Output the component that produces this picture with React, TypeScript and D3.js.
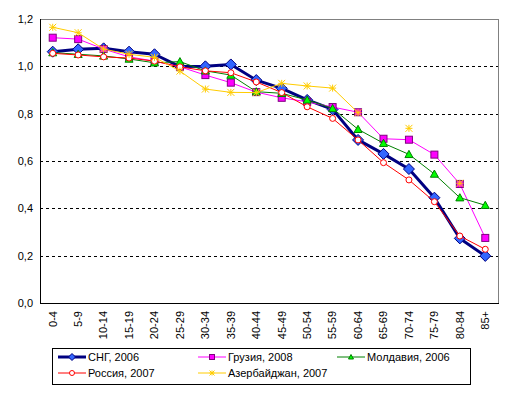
import React from "react";
import * as d3 from "d3";

const categories = ["0-4","5-9","10-14","15-19","20-24","25-29","30-34","35-39","40-44","45-49","50-54","55-59","60-64","65-69","70-74","75-79","80-84","85+"];
const yTicks = [0, 0.2, 0.4, 0.6, 0.8, 1.0, 1.2];

const sng = [1.062,1.072,1.076,1.062,1.051,0.999,1.0,1.008,0.942,0.907,0.858,0.818,0.689,0.630,0.566,0.445,0.273,0.199];
const georgia = [1.121,1.115,1.073,1.04,1.022,0.998,0.963,0.931,0.891,0.867,0.85,0.828,0.806,0.694,0.690,0.627,0.503,0.275];
const moldova = [1.058,1.051,1.044,1.031,1.015,1.02,0.981,0.963,0.893,0.886,0.858,0.822,0.734,0.675,0.628,0.545,0.445,0.413];
const russia = [1.055,1.048,1.04,1.035,1.022,0.998,0.981,0.973,0.934,0.889,0.829,0.780,0.689,0.593,0.520,0.428,0.283,0.227];
const azerbaijan: (number | null)[] = [1.165,1.142,1.073,1.051,1.038,0.980,0.904,0.890,0.889,0.928,0.917,0.908,0.804,null,0.738,null,0.506,null];

const seriesNames = ["СНГ, 2006","Грузия, 2008","Молдавия, 2006","Россия, 2007","Азербайджан, 2007"];

type Marker = "diamond" | "square" | "triangle" | "circle" | "star";
const styles: { line: string; width: number; marker: Marker; fill: string; stroke: string; size: number }[] = [
  { line: "#000080", width: 3, marker: "diamond", fill: "#3366FF", stroke: "#000080", size: 5.5 },
  { line: "#FF00FF", width: 1, marker: "square", fill: "#FF00FF", stroke: "#800080", size: 3.5 },
  { line: "#008000", width: 1, marker: "triangle", fill: "#00FF00", stroke: "#008000", size: 4 },
  { line: "#FF0000", width: 1, marker: "circle", fill: "none", stroke: "#FF0000", size: 3 },
  { line: "#FFCC00", width: 1, marker: "star", fill: "none", stroke: "#FFCC00", size: 3.5 },
];
const allSeries = [sng, georgia, moldova, russia, azerbaijan];

function MarkerShape({ type, x, y, s, fill, stroke }: { type: Marker; x: number; y: number; s: number; fill: string; stroke: string }) {
  switch (type) {
    case "diamond":
      return <path d={`M${x},${y - s}L${x + s},${y}L${x},${y + s}L${x - s},${y}Z`} fill={fill} stroke={stroke} strokeWidth={1} />;
    case "square":
      return <rect x={x - s} y={y - s} width={2 * s} height={2 * s} fill={fill} stroke={stroke} strokeWidth={1} />;
    case "triangle":
      return <path d={`M${x},${y - s}L${x + s},${y + s * 0.8}L${x - s},${y + s * 0.8}Z`} fill={fill} stroke={stroke} strokeWidth={1} />;
    case "circle":
      return <circle cx={x} cy={y} r={s} fill={fill} stroke={stroke} strokeWidth={1} />;
    case "star":
      return <path d={`M${x - s},${y - s}L${x + s},${y + s}M${x - s},${y + s}L${x + s},${y - s}M${x},${y - s}L${x},${y + s}M${x - s},${y}L${x + s},${y}`} fill="none" stroke={stroke} strokeWidth={1} />;
  }
}

export default function App() {
  const W = 513, H = 393;
  const left = 40, right = 498, top = 19, bottom = 303;
  const x = d3.scaleBand<string>().domain(categories).range([left, right]);
  const y = d3.scaleLinear().domain([0, 1.2]).range([bottom, top]);
  const cx = (c: string) => (x(c) as number) + x.bandwidth() / 2;
  const font = "'Liberation Sans', Arial, sans-serif";

  const line = d3.line<number | null>()
    .defined((d) => d !== null)
    .x((_, i) => cx(categories[i]))
    .y((d) => y(d as number));

  const legendItems = [
    { i: 0, lx: 58, ly: 357 },
    { i: 1, lx: 198, ly: 357 },
    { i: 2, lx: 337, ly: 357 },
    { i: 3, lx: 58, ly: 373 },
    { i: 4, lx: 198, ly: 373 },
  ];

  return (
    <svg width={W} height={H} style={{ position: "absolute", left: 0, top: 0, background: "#fff" }} fontFamily={font}>
      <rect x={0} y={0} width={W} height={H} fill="#fff" />
      {yTicks.filter((t) => t > 0 && t < 1.2).map((t) => (
        <line key={t} x1={left} x2={right} y1={Math.round(y(t)) + 0.5} y2={Math.round(y(t)) + 0.5} stroke="#000" strokeDasharray="3,3" />
      ))}
      <line x1={left} x2={right} y1={top + 0.5} y2={top + 0.5} stroke="#808080" />
      <line x1={right + 0.5} x2={right + 0.5} y1={top} y2={bottom} stroke="#808080" />
      <line x1={left + 0.5} x2={left + 0.5} y1={top} y2={bottom + 0.5} stroke="#000" />
      <line x1={left} x2={right + 1} y1={bottom + 0.5} y2={bottom + 0.5} stroke="#000" />
      {yTicks.map((t) => (
        <text key={t} x={33} y={y(t)} dy="0.35em" textAnchor="end" fontSize={11} fill="#000">
          {t.toFixed(1).replace(".", ",")}
        </text>
      ))}
      {categories.map((c) => (
        <text key={c} transform={`translate(${cx(c)},${bottom + 8}) rotate(-90)`} textAnchor="end" dy="0.35em" fontSize={11} fill="#000">
          {c}
        </text>
      ))}
      {allSeries.map((data, si) => {
        const st = styles[si];
        return (
          <g key={si}>
            <path d={line(data as (number | null)[]) || ""} fill="none" stroke={st.line} strokeWidth={st.width} strokeLinejoin="round" />
            {data.map((v, i) =>
              v === null ? null : (
                <MarkerShape key={i} type={st.marker} x={cx(categories[i])} y={y(v)} s={st.size} fill={st.fill === "none" ? "#fff" : st.fill} stroke={st.stroke} />
              )
            )}
          </g>
        );
      })}
      <rect x={52.5} y={348.5} width={418} height={36} fill="#fff" stroke="#000" />
      {legendItems.map(({ i, lx, ly }) => {
        const st = styles[i];
        return (
          <g key={i}>
            <line x1={lx} x2={lx + 28} y1={ly} y2={ly} stroke={st.line} strokeWidth={st.width} />
            <MarkerShape type={st.marker} x={lx + 14} y={ly} s={i === 0 ? 3.5 : 2.5} fill={st.fill === "none" ? "#fff" : st.fill} stroke={st.stroke} />
            <text x={lx + 30} y={ly} dy="0.35em" fontSize={11} fill="#000">{seriesNames[i]}</text>
          </g>
        );
      })}
    </svg>
  );
}
